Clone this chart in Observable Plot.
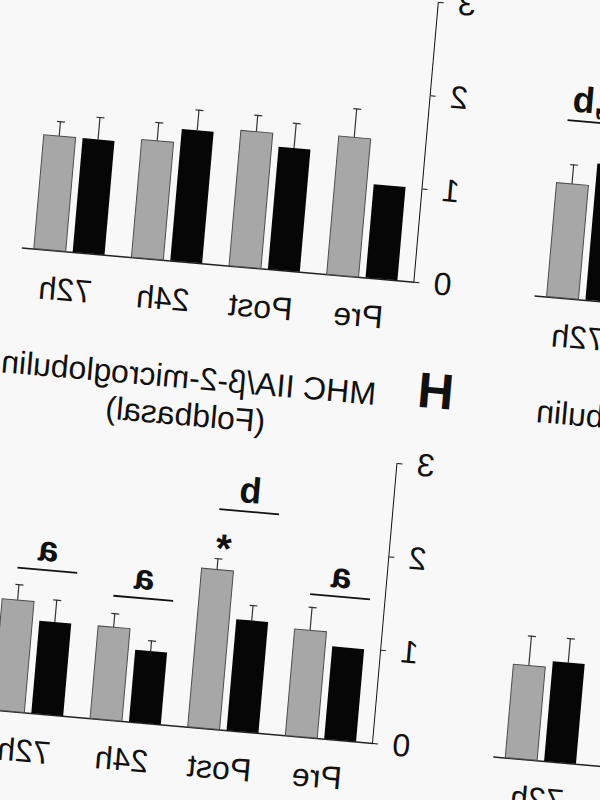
<!DOCTYPE html>
<html><head><meta charset="utf-8">
<script src="https://cdn.jsdelivr.net/npm/d3@7"></script>
<script src="https://cdn.jsdelivr.net/npm/@observablehq/plot@0.6"></script>
<style>
html,body{margin:0;padding:0;width:600px;height:800px;overflow:hidden;background:#f8f8f8;}
#fig{position:absolute;left:-226.7px;top:-57.3px;width:1100px;height:900px;transform-origin:600px 800px;transform:rotate(5deg) scaleX(-1);font-family:"Liberation Sans",Arial,sans-serif;color:#111;}
.panel{position:absolute;}
.title{position:absolute;font-size:32px;line-height:37px;text-align:center;white-space:nowrap;}
.letter{position:absolute;font-size:50px;font-weight:bold;line-height:50px;transform:translate(-50%,-50%);}
</style></head><body><div id="fig"></div>
<script>
const categories = ["Pre", "Post", "24h", "72h"];

// upper panel (fully visible)
const upperGrey     = [1.48, 1.45, 1.26, 1.22];
const upperGreyErr  = [0.31, 0.18, 0.20, 0.16];
const upperBlack    = [1.00, 1.31, 1.41, 1.22];
const upperBlackErr = [0,    0.27, 0.22, 0.24];

// panel H
const hGrey     = [1.14, 1.70, 0.99, 1.19];
const hGreyErr  = [0.25, 0.12, 0.15, 0.17];
const hBlack    = [0.99, 1.19, 0.77, 0.99];
const hBlackErr = [0,    0.165, 0.115, 0.24];
const hLetters  = ["a", "b", "a", "a"];
const hLetterLevel = [1.53, 2.35, 1.33, 1.54];
const hStars = ["Post"];

// partly visible neighbour panels (only 72h readable)
const upperRightGrey     = [null, null, null, 1.22];
const upperRightGreyErr  = [null, null, null, 0.21];
const upperRightBlack    = [null, null, null, 1.46];
const upperRightBlackErr = [null, null, null, null];
const upperRightLetters  = [null, null, null, "a,b"];
const upperRightLevel    = [null, null, null, 1.90];

const lowerRightGrey     = [null, null, null, 1.00];
const lowerRightGreyErr  = [null, null, null, 0.32];
const lowerRightBlack    = [null, null, null, 1.07];
const lowerRightBlackErr = [null, null, null, 0.26];

const yTicks = [0, 1, 2, 3];
const titleH = ["MHC IIA/β-2-microglobulin", "(Foldbasal)"];
const titleG = ["MHC I/β-2-microglobulin", "(Foldbasal)"];

function rows(values, errs) {
  return categories.map((time, i) => ({time, value: values[i], err: errs[i]}))
    .filter(d => d.value != null);
}
function notes(labels, levels) {
  return categories.map((time, i) => ({time, label: labels[i], level: levels[i]}))
    .filter(d => d.label != null);
}

const Y_PX = 281, X_PX = 394, ML = 60, MR = 10, MT = 20, MB = 70;

function panel({grey, black, ann = [], stars = [], noteDx = -7}) {
  const cap = d => d.value + d.err;
  const ge = grey.filter(d => d.err), be = black.filter(d => d.err);
  const starRows = grey.filter(d => stars.includes(d.time));
  return Plot.plot({
    width: ML + X_PX + MR, height: MT + Y_PX + MB,
    marginLeft: ML, marginRight: MR, marginTop: MT, marginBottom: MB,
    style: {background: "transparent", fontFamily: "Liberation Sans, Arial, sans-serif", fontSize: "32px", color: "#111", overflow: "visible"},
    x: {domain: categories, paddingInner: 0.2767, paddingOuter: 0.145, align: 0.593, tickSize: 0, tickPadding: 26, label: null},
    y: {domain: [0, 3], ticks: yTicks, tickFormat: d => String(d), tickSize: 5, tickPadding: 15, line: true, label: null},
    marks: [
      Plot.ruleY([0], {stroke: "#222", strokeWidth: 1.5}),
      Plot.ruleX(ge, {x: "time", y1: "value", y2: cap, dx: 19.5, stroke: "#333", strokeWidth: 1.2}),
      Plot.tickY(ge, {x: "time", y: cap, insetLeft: 51, insetRight: 12, stroke: "#333", strokeWidth: 1.2}),
      Plot.ruleX(be, {x: "time", y1: "value", y2: cap, dx: -19.5, stroke: "#333", strokeWidth: 1.2}),
      Plot.tickY(be, {x: "time", y: cap, insetLeft: 12, insetRight: 51, stroke: "#333", strokeWidth: 1.2}),
      Plot.barY(black, {x: "time", y: "value", insetRight: 39, fill: "#060606"}),
      Plot.barY(grey, {x: "time", y: "value", insetLeft: 39, fill: "#a7a7a7", stroke: "#4d4d4d", strokeWidth: 1}),
      Plot.tickY(ann, {x: "time", y: "level", dx: noteDx, insetLeft: 5.5, insetRight: 5.5, stroke: "#111", strokeWidth: 1.8}),
      Plot.text(ann, {x: "time", y: "level", text: "label", dx: noteDx, dy: -9, lineAnchor: "bottom", fontWeight: "bold", fontSize: 36, fill: "#111"}),
      Plot.text(starRows, {x: "time", y: cap, text: d => "*", dx: 15, dy: 3, lineAnchor: "bottom", fontWeight: "bold", fontSize: 40, fill: "#111"})
    ]
  });
}

const fig = document.getElementById("fig");
const Ox = 600, Oy = 800;

function place(svg, ax, by) {
  svg.classList.add("panel");
  svg.style.left = (Ox + ax - ML) + "px";
  svg.style.top = (Oy + by - MT - Y_PX) + "px";
  fig.appendChild(svg);
}

place(panel({grey: rows(hGrey, hGreyErr), black: rows(hBlack, hBlackErr),
  ann: notes(hLetters, hLetterLevel), stars: hStars}), 0, 0);
place(panel({grey: rows(upperGrey, upperGreyErr), black: rows(upperBlack, upperBlackErr)}), -1, -463);
place(panel({grey: rows(upperRightGrey, upperRightGreyErr), black: rows(upperRightBlack, upperRightBlackErr),
  ann: notes(upperRightLetters, upperRightLevel), noteDx: 0}), -516, -460);
place(panel({grey: rows(lowerRightGrey, lowerRightGreyErr), black: rows(lowerRightBlack, lowerRightBlackErr)}), -515, 3);

// panel letter and titles
const letter = document.createElement("div");
letter.className = "letter"; letter.textContent = "H";
letter.style.left = (Ox - 31.8) + "px"; letter.style.top = (Oy - 355.8) + "px";
fig.appendChild(letter);

const t1 = document.createElement("div");
t1.className = "title"; t1.innerHTML = titleH.join("<br>");
t1.style.left = (Ox + 215.5) + "px"; t1.style.top = (Oy - 328.7) + "px";
t1.style.transform = "translate(-50%,-50%)";
fig.appendChild(t1);

const t2 = document.createElement("div");
t2.className = "title"; t2.innerHTML = titleG.join("<br>");
t2.style.left = (Ox - 133.8) + "px"; t2.style.top = (Oy - 344.5 - 18.5) + "px";
t2.style.transform = "translate(-100%,0)";
fig.appendChild(t2);
</script>
</body></html>
